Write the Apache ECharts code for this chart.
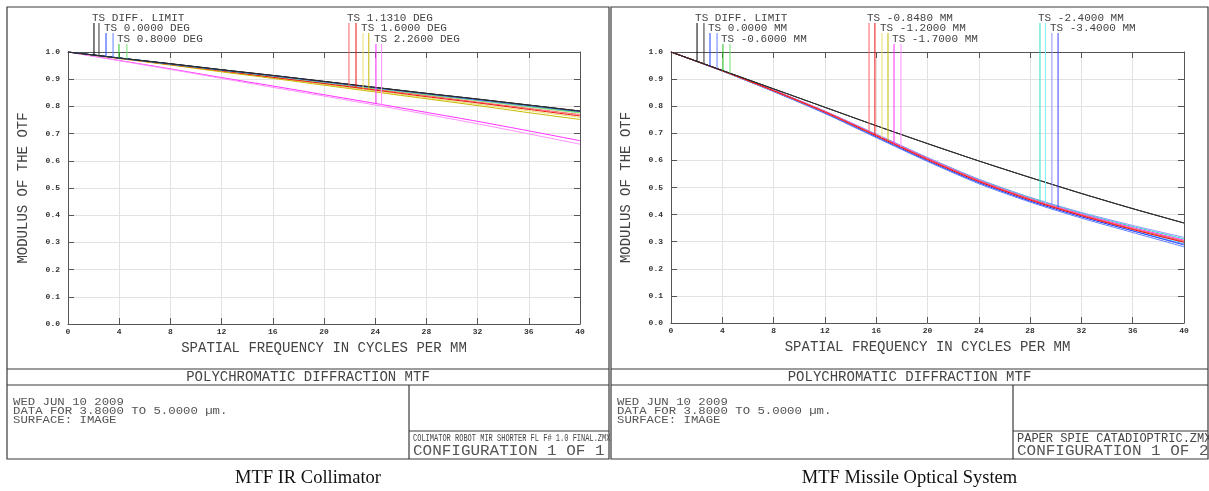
<!DOCTYPE html>
<html><head><meta charset="utf-8">
<script src="https://cdn.jsdelivr.net/npm/echarts@6/dist/echarts.min.js"></script>
<style>html,body{margin:0;padding:0;background:#fff}#c{width:1209px;height:491px}</style>
</head><body><div id="c"></div>
<script>
// ---------- DATA ----------
const freqs = [0, 4, 8, 12, 16, 20, 24, 28, 32, 36, 40];
const xTickLabels = ['0','4','8','12','16','20','24','28','32','36','40'];
const yTickLabels = ['0.0','0.1','0.2','0.3','0.4','0.5','0.6','0.7','0.8','0.9','1.0'];

// Left: MTF IR Collimator (T and S per field)
const leftDiffT    = [1, .978, .957, .935, .914, .892, .870, .848, .827, .805, .783];
const leftDiffS    = [1, .978, .957, .935, .914, .892, .870, .848, .827, .805, .783];
const leftF1T      = [1, .978, .956, .934, .913, .891, .869, .847, .825, .804, .782];
const leftF1S      = [1, .978, .956, .934, .912, .890, .868, .846, .824, .802, .781];
const leftF2T      = [1, .978, .956, .934, .912, .890, .867, .845, .823, .801, .779];
const leftF2S      = [1, .977, .955, .933, .911, .888, .866, .843, .821, .798, .776];
const leftF3T      = [1, .977, .955, .932, .909, .886, .863, .840, .816, .793, .770];
const leftF3S      = [1, .977, .954, .931, .907, .884, .860, .836, .813, .789, .765];
const leftF4T      = [1, .977, .953, .929, .905, .881, .857, .832, .808, .784, .760];
const leftF4S      = [1, .976, .952, .927, .903, .878, .853, .828, .803, .777, .752];
const leftF5T      = [1, .969, .938, .906, .875, .843, .811, .778, .745, .710, .674];
const leftF5S      = [1, .968, .936, .903, .870, .838, .805, .771, .736, .699, .661];

const leftLabels = ['TS DIFF. LIMIT', 'TS 0.0000 DEG', 'TS 0.8000 DEG', 'TS 1.1310 DEG', 'TS 1.6000 DEG', 'TS 2.2600 DEG'];
const leftLeaderFreq = [[2.03, 2.42], [2.97, 3.52], [3.98, 4.6], [21.95, 22.5], [23.05, 23.5], [24.06, 24.5]];
const leftLeaderVal  = [[.989, .987], [.984, .981], [.978, .975], [.876, .871], [.865, .859], [.811, .803]];
const leftLeaderRow  = [0, 1, 2, 0, 1, 2];

// Right: MTF Missile Optical System
const rightDiffT   = [1, .932, .864, .796, .728, .662, .598, .537, .478, .422, .369];
const rightDiffS   = [1, .932, .864, .796, .728, .662, .598, .537, .478, .422, .369];
const rightF1T     = [1, .930, .855, .775, .687, .599, .518, .450, .392, .340, .288];
const rightF1S     = [1, .930, .854, .773, .684, .596, .514, .446, .387, .334, .281];
const rightF2T     = [1, .931, .858, .779, .692, .605, .524, .456, .398, .348, .301];
const rightF2S     = [1, .931, .857, .778, .691, .604, .523, .455, .397, .346, .299];
const rightF3T     = [1, .931, .858, .780, .693, .606, .525, .457, .399, .348, .302];
const rightF3S     = [1, .931, .857, .778, .691, .603, .522, .454, .396, .345, .298];
const rightF4T     = [1, .931, .858, .780, .694, .607, .526, .458, .400, .350, .304];
const rightF4S     = [1, .931, .857, .779, .692, .604, .523, .455, .397, .346, .300];
const rightF5T     = [1, .931, .859, .781, .695, .608, .527, .459, .402, .352, .306];
const rightF5S     = [1, .931, .857, .778, .691, .603, .522, .454, .396, .345, .299];
const rightF6T     = [1, .931, .859, .781, .696, .609, .529, .462, .405, .356, .311];
const rightF6S     = [1, .930, .856, .776, .689, .601, .520, .452, .394, .342, .294];
const rightF7T     = [1, .931, .859, .782, .697, .611, .531, .464, .408, .360, .316];
const rightF7S     = [1, .930, .855, .775, .688, .600, .519, .451, .393, .341, .292];

const rightLabels = ['TS DIFF. LIMIT', 'TS 0.0000 MM', 'TS -0.6000 MM', 'TS -0.8480 MM', 'TS -1.2000 MM', 'TS -1.7000 MM', 'TS -2.4000 MM', 'TS -3.4000 MM'];
const rightLeaderFreq = [[2.03, 2.57], [3.04, 3.59], [4.05, 4.6], [15.44, 15.9], [16.45, 16.92], [17.39, 17.93], [28.77, 29.2], [29.7, 30.18]];
const rightLeaderVal  = [[.966, .957], [.949, .940], [.931, .921], [.705, .695], [.683, .672], [.662, .650], [.448, .441], [.434, .426]];
const rightLeaderRow  = [0, 1, 2, 0, 1, 2, 0, 1];

// ---------- STYLE ----------
const fieldColors = [
  ['#000000', '#333333'],
  ['#2040ff', '#6080ff'],
  ['#20c020', '#70e070'],
  ['#ff6060', '#ee1010'],
  ['#e8e070', '#c8b800'],
  ['#ff30ff', '#ff90ff'],
  ['#30e0c0', '#80f0ff'],
  ['#9090ff', '#4040ff']
];
// drawing order (first drawn = bottom)
const leftDrawOrder = [5, 4, 3, 2, 1, 0];
const rightDrawOrder = [7, 6, 1, 2, 4, 5, 3, 0];
const MONO = '"Liberation Mono", "DejaVu Sans Mono", monospace';
const INK = '#444444';
const rowTextY = [18, 28.5, 39];
const rowLeaderTop = [23, 33, 44];

const leftSeriesArrays = [[leftDiffT, leftDiffS], [leftF1T, leftF1S], [leftF2T, leftF2S], [leftF3T, leftF3S], [leftF4T, leftF4S], [leftF5T, leftF5S]];
const rightSeriesArrays = [[rightDiffT, rightDiffS], [rightF1T, rightF1S], [rightF2T, rightF2S], [rightF3T, rightF3S], [rightF4T, rightF4S], [rightF5T, rightF5S], [rightF6T, rightF6S], [rightF7T, rightF7S]];

function lineSeries(arrs, names, order, xi) {
  const out = [];
  order.forEach(k => {
    for (let j = 0; j < 2; j++) {
      out.push({
        type: 'line', name: names[k] + (j ? ' S' : ' T'),
        xAxisIndex: xi, yAxisIndex: xi,
        data: freqs.map((f, i) => [f, arrs[k][j][i]]),
        showSymbol: false, symbol: 'none', smooth: 0.25,
        lineStyle: { width: 1, color: fieldColors[k][j] },
        z: 3, silent: true
      });
    }
  });
  return out;
}

function leaderSeries(names, fr, vals, rows, xi) {
  return {
    type: 'custom', xAxisIndex: xi, yAxisIndex: xi, clip: false, silent: true, z: 4,
    data: names.map((n, i) => [fr[i][0], vals[i][0], fr[i][1], vals[i][1], rows[i]]),
    renderItem: function (params, api) {
      const i = params.dataIndex;
      const p1 = api.coord([api.value(0), api.value(1)]);
      const p2 = api.coord([api.value(2), api.value(3)]);
      const r = api.value(4);
      const top = rowLeaderTop[r];
      return {
        type: 'group',
        children: [
          { type: 'line', shape: { x1: p1[0], y1: top, x2: p1[0], y2: p1[1] }, style: { stroke: fieldColors[i][0], lineWidth: 1 } },
          { type: 'line', shape: { x1: p2[0], y1: top, x2: p2[0], y2: p2[1] }, style: { stroke: fieldColors[i][1], lineWidth: 1 } },
          { type: 'text', x: p1[0] - 2, y: rowTextY[r], style: { text: names[i], fill: INK, font: '11px ' + MONO, textVerticalAlign: 'middle', textAlign: 'left' } }
        ]
      };
    }
  };
}

function xAxes(gi) {
  return [
    { type: 'value', gridIndex: gi, min: 0, max: 40, interval: 4, position: 'bottom',
      name: 'SPATIAL FREQUENCY IN CYCLES PER MM', nameLocation: 'middle', nameGap: 17,
      nameTextStyle: { fontFamily: MONO, fontSize: 14, color: INK },
      axisLine: { lineStyle: { color: '#555', width: 1 } },
      axisTick: { inside: true, length: 6, lineStyle: { color: '#555' } },
      axisLabel: { margin: 4, fontFamily: MONO, fontSize: 8, fontWeight: 'bold', color: '#333',
        formatter: v => xTickLabels[freqs.indexOf(v)] },
      splitLine: { show: true, lineStyle: { color: '#e2e2e2', width: 1 } } },
    { type: 'value', gridIndex: gi, min: 0, max: 40, interval: 4, position: 'top',
      axisLine: { show: true, onZero: false, lineStyle: { color: '#555', width: 1 } },
      axisTick: { inside: true, length: 6, lineStyle: { color: '#555' } },
      axisLabel: { show: false }, splitLine: { show: false } }
  ];
}
function yAxes(gi) {
  return [
    { type: 'value', gridIndex: gi, min: 0, max: 1, interval: 0.1, position: 'left',
      name: 'MODULUS OF THE OTF', nameLocation: 'middle', nameGap: 38,
      nameTextStyle: { fontFamily: MONO, fontSize: 14, color: INK },
      axisLine: { show: true, lineStyle: { color: '#555', width: 1 } },
      axisTick: { show: true, inside: true, length: 6, lineStyle: { color: '#555' } },
      axisLabel: { margin: 8, fontFamily: MONO, fontSize: 8, fontWeight: 'bold', color: '#333',
        formatter: v => yTickLabels[Math.round(v * 10)] },
      splitLine: { show: true, lineStyle: { color: '#e2e2e2', width: 1 } } },
    { type: 'value', gridIndex: gi, min: 0, max: 1, interval: 0.1, position: 'right',
      axisLine: { show: true, onZero: false, lineStyle: { color: '#555', width: 1 } },
      axisTick: { show: true, inside: true, length: 6, lineStyle: { color: '#555' } },
      axisLabel: { show: false }, splitLine: { show: false } }
  ];
}

function boxGraphics(x0, x1, div, rightBoxFirst, rightBoxSecond, firstFont, firstScale, caption) {
  const st = { stroke: '#3a3a3a', lineWidth: 1.2, fill: null };
  const g = [];
  g.push({ type: 'rect', shape: { x: x0, y: 7, width: x1 - x0, height: 452 }, style: { stroke: '#3a3a3a', lineWidth: 1.2, fill: 'transparent' } });
  g.push({ type: 'line', shape: { x1: x0, y1: 369, x2: x1, y2: 369 }, style: st });
  g.push({ type: 'line', shape: { x1: x0, y1: 385, x2: x1, y2: 385 }, style: st });
  g.push({ type: 'line', shape: { x1: div, y1: 385, x2: div, y2: 459 }, style: st });
  g.push({ type: 'line', shape: { x1: div, y1: 431, x2: x1, y2: 431 }, style: st });
  g.push({ type: 'text', x: (x0 + x1) / 2, y: 377.5, style: { text: 'POLYCHROMATIC DIFFRACTION MTF', font: '14px ' + MONO, fill: INK, textAlign: 'center', textVerticalAlign: 'middle' } });
  const info = ['WED JUN 10 2009', 'DATA FOR 3.8000 TO 5.0000 µm.', 'SURFACE: IMAGE'];
  info.forEach((t, i) => g.push({ type: 'text', x: x0 + 6, y: 402 + i * 8.8, scaleX: 1.12, style: { text: t, font: '11px ' + MONO, fill: '#555', textAlign: 'left', textVerticalAlign: 'middle' } }));
  g.push({ type: 'text', x: div + 4, y: 438.5, scaleX: firstScale, style: { text: rightBoxFirst, font: firstFont + ' ' + MONO, fill: INK, textAlign: 'left', textVerticalAlign: 'middle' } });
  g.push({ type: 'text', x: div + 4, y: 451.5, scaleX: 1.14, style: { text: rightBoxSecond, font: '14px ' + MONO, fill: '#555', textAlign: 'left', textVerticalAlign: 'middle' } });
  g.push({ type: 'text', x: (x0 + x1) / 2, y: 478, style: { text: caption, font: '18.5px "Liberation Serif", "DejaVu Serif", serif', fill: '#111', textAlign: 'center', textVerticalAlign: 'middle' } });
  return g;
}

const graphics = [
  ...boxGraphics(7, 609, 409, 'COLIMATOR ROBOT MIR SHORTER FL F# 1.0 FINAL.ZMX', 'CONFIGURATION 1 OF 1', '10px', 0.7, 'MTF IR Collimator'),
  ...boxGraphics(611, 1208, 1013, 'PAPER SPIE CATADIOPTRIC.ZMX', 'CONFIGURATION 1 OF 2', '12px', 1.0, 'MTF Missile Optical System')
];

const option = {
  animation: false,
  backgroundColor: '#ffffff',
  grid: [
    { left: 68, top: 52, width: 512, height: 272 },
    { left: 671, top: 52, width: 513, height: 271 }
  ],
  xAxis: [...xAxes(0), ...xAxes(1)],
  yAxis: [...yAxes(0), ...yAxes(1)],
  graphic: graphics,
  series: [
    ...lineSeries(leftSeriesArrays, leftLabels, leftDrawOrder, 0),
    leaderSeries(leftLabels, leftLeaderFreq, leftLeaderVal, leftLeaderRow, 0),
    ...lineSeries(rightSeriesArrays, rightLabels, rightDrawOrder, 2),
    leaderSeries(rightLabels, rightLeaderFreq, rightLeaderVal, rightLeaderRow, 2)
  ]
};
const chart = echarts.init(document.getElementById('c'), null, { renderer: 'canvas' });
chart.setOption(option);
</script></body></html>
